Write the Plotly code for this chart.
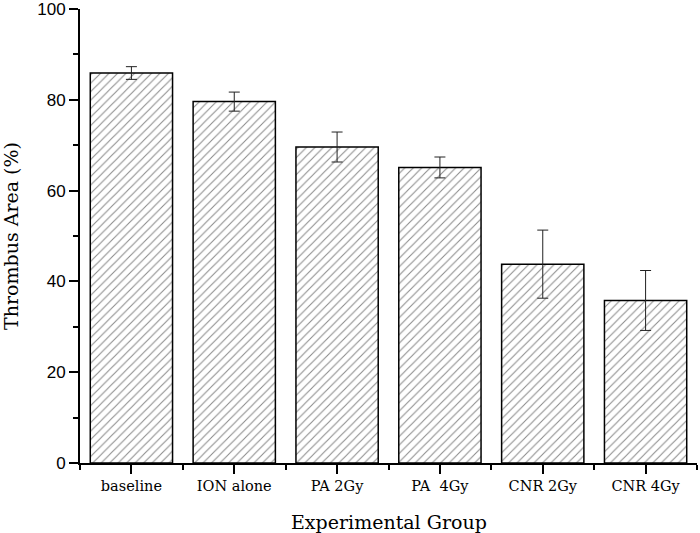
import plotly.graph_objects as go

categories = ["baseline", "ION alone", "PA 2Gy", "PA  4Gy", "CNR 2Gy", "CNR 4Gy"]
values = [85.9, 79.6, 69.6, 65.1, 43.8, 35.8]
errors = [1.4, 2.1, 3.3, 2.3, 7.5, 6.6]
x_pos = list(range(len(categories)))
y_ticks = [0, 20, 40, 60, 80, 100]

fig = go.Figure()
fig.add_trace(go.Bar(
    x=x_pos, y=values, width=0.8,
    marker=dict(color="white", line=dict(color="black", width=1.5),
                pattern=dict(shape="/", size=6, solidity=0.18, fgcolor="#1a1a1a", bgcolor="white")),
    error_y=dict(type="data", array=errors, visible=True, color="#222", thickness=1, width=5.5),
    showlegend=False,
))

fig.update_layout(
    width=700, height=533,
    margin=dict(l=80, r=3, t=9, b=70),
    plot_bgcolor="white", paper_bgcolor="white",
    xaxis=dict(
        range=[-0.5, 5.5], tickvals=x_pos, ticktext=categories, automargin=False,
        showline=True, linecolor="black", linewidth=2, mirror=False,
        ticks="outside", ticklen=9, tickwidth=2, tickcolor="black",
        showgrid=False, zeroline=False,
        tickfont=dict(family="DejaVu Serif", size=14.5, color="black"),
        minor=dict(tickvals=[i - 0.5 for i in range(len(categories) + 1)],
                   ticks="outside", ticklen=5, tickwidth=2, tickcolor="black", showgrid=False),
    ),
    yaxis=dict(
        range=[0, 100], tickvals=y_ticks, automargin=False, ticklabeloverflow="allow",
        showline=True, linecolor="black", linewidth=2,
        ticks="outside", ticklen=9, tickwidth=2, tickcolor="black",
        showgrid=False, zeroline=False,
        tickfont=dict(family="Liberation Sans", size=17, color="black"),
        minor=dict(dtick=10, tick0=0, ticks="outside", ticklen=5, tickwidth=2, tickcolor="black", showgrid=False),
        title=dict(text="Thrombus Area (%)", font=dict(family="DejaVu Serif", size=19, color="black"), standoff=21),
    ),
    annotations=[dict(text="Experimental Group", xref="paper", yref="paper", x=0.5, y=0,
                      xanchor="center", yanchor="middle", yshift=-59, showarrow=False,
                      font=dict(family="DejaVu Serif", size=19, color="black"))],
)

fig.write_html("out.html", config={"displayModeBar": False},
               post_script="document.body.style.margin='0';document.body.style.overflow='hidden';")
